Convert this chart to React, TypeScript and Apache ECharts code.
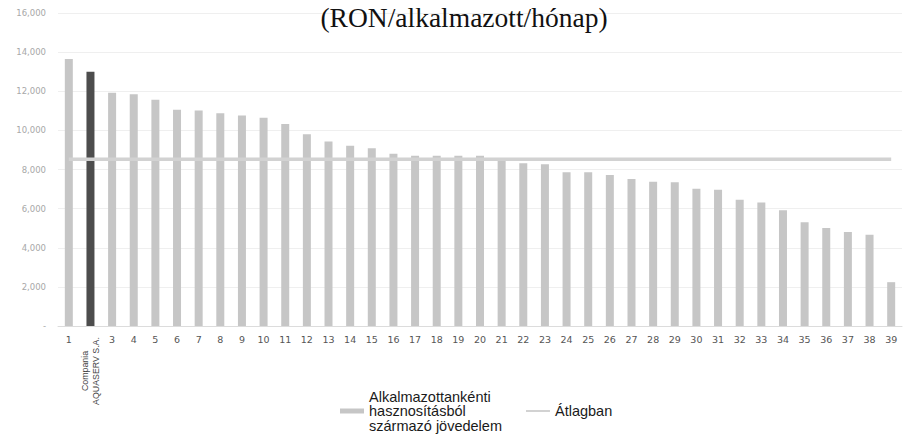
import React, { useEffect, useRef } from "react";
import * as echarts from "echarts";

const titleText = "(RON/alkalmazott/hónap)";

const categories: string[] = [
  "1", "Compania\nAQUASERV S.A.", "3", "4", "5", "6", "7", "8", "9", "10",
  "11", "12", "13", "14", "15", "16", "17", "18", "19", "20",
  "21", "22", "23", "24", "25", "26", "27", "28", "29", "30",
  "31", "32", "33", "34", "35", "36", "37", "38", "39",
];

const incomeValues: number[] = [
  13650, 13000, 11920, 11850, 11560, 11050, 11010, 10880, 10760, 10640,
  10320, 9800, 9430, 9210, 9090, 8800, 8700, 8700, 8700, 8700,
  8520, 8320, 8270, 7860, 7860, 7720, 7520, 7380, 7350, 7010,
  6960, 6450, 6310, 5920, 5300, 5010, 4810, 4670, 2240,
];

const highlightedCategory = "Compania\nAQUASERV S.A.";

const averageValue = 8520;
const averageValues: number[] = categories.map(() => averageValue);

const yTicks: number[] = [0, 2000, 4000, 6000, 8000, 10000, 12000, 14000, 16000];

const barSeriesName = "Alkalmazottankénti\nhasznosításból\nszármazó jövedelem";
const lineSeriesName = "Átlagban";

export default function App() {
  const ref = useRef<HTMLDivElement>(null);

  useEffect(() => {
    if (!ref.current) return;
    const chart = echarts.init(ref.current, undefined, { renderer: "svg" });
    const fmt = (v: number) =>
      v === 0 ? "-" : v.toLocaleString("en-US");

    chart.setOption({
      animation: false,
      backgroundColor: "#ffffff",
      graphic: [
        {
          type: "text",
          x: 464,
          y: 3,
          z: 10,
          style: {
            text: titleText,
            textAlign: "center",
            textVerticalAlign: "top",
            fontFamily: "Liberation Serif",
            fontSize: 27.5,
            fill: "#111111",
          },
        },
      ],
      grid: {
        left: 58,
        right: 13,
        top: 13,
        bottom: 111,
        containLabel: false,
        outerBoundsMode: "none",
      },
      legend: {
        left: 335,
        top: 384,
        itemGap: 23,
        itemWidth: 24,
        itemHeight: 5,
        textStyle: {
          fontFamily: "Liberation Sans",
          fontSize: 14.5,
          lineHeight: 14.5,
          color: "#1a1a1a",
        },
        data: [
          { name: barSeriesName, icon: "rect" },
          {
            name: lineSeriesName,
            lineStyle: { width: 2 },
            itemStyle: { opacity: 0 },
          },
        ],
      },
      xAxis: [
        {
          type: "category",
          data: categories,
          position: "bottom",
          axisLine: { show: true, lineStyle: { color: "#dcdcdc", width: 1 } },
          axisTick: { show: false },
          axisLabel: {
            interval: 0,
            margin: 8,
            fontFamily: "DejaVu Sans",
            fontSize: 9.5,
            color: "#555555",
            formatter: (v: string) => (v === highlightedCategory ? "" : v),
          },
          splitLine: { show: false },
        },
        {
          type: "category",
          data: categories,
          position: "bottom",
          axisLine: { show: false },
          axisTick: { show: false },
          axisLabel: {
            interval: 0,
            rotate: 90,
            margin: 45,
            align: "center",
            verticalAlign: "middle",
            fontFamily: "Liberation Sans",
            fontSize: 8.8,
            lineHeight: 11,
            color: "#444444",
            formatter: (v: string) => (v === highlightedCategory ? v : ""),
          },
          splitLine: { show: false },
        },
      ],
      yAxis: {
        type: "value",
        min: yTicks[0],
        max: yTicks[yTicks.length - 1],
        interval: 2000,
        axisLine: { show: false },
        axisTick: { show: false },
        axisLabel: {
          margin: 12,
          fontFamily: "DejaVu Sans",
          fontSize: 8.5,
          color: "#a8a8a8",
          formatter: fmt,
        },
        splitLine: { lineStyle: { color: "#efefef", width: 1 } },
      },
      series: [
        {
          name: barSeriesName,
          type: "bar",
          xAxisIndex: 0,
          barWidth: 8,
          data: incomeValues.map((v, i) => ({
            value: v,
            itemStyle: {
              color: categories[i] === highlightedCategory ? "#4d4d4d" : "#c6c6c6",
            },
          })),
          itemStyle: { color: "#c6c6c6" },
        },
        {
          name: lineSeriesName,
          type: "line",
          xAxisIndex: 0,
          data: averageValues,
          symbol: "none",
          showSymbol: false,
          lineStyle: { color: "#d2d2d2", width: 3.5 },
          itemStyle: { color: "#d2d2d2" },
        },
      ],
    });

    return () => chart.dispose();
  }, []);

  return (
    <div
      ref={ref}
      style={{ position: "fixed", left: 0, top: 0, width: 915, height: 437 }}
    />
  );
}
